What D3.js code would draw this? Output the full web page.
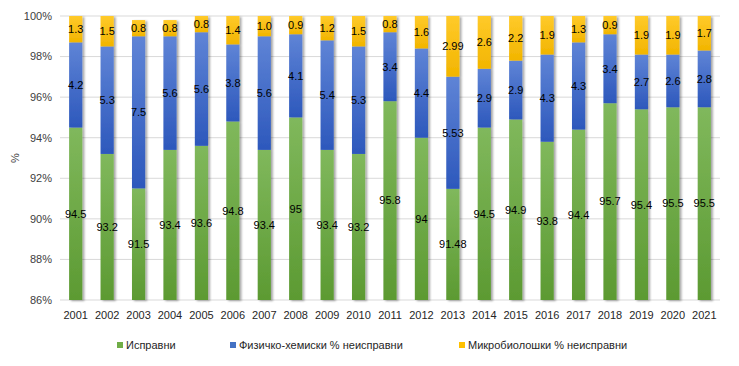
<!DOCTYPE html>
<html>
<head>
<meta charset="utf-8">
<script src="https://cdn.jsdelivr.net/npm/d3@7"></script>
<style>
  body { margin: 0; background: #fff; }
  text { font-family: "Liberation Sans", Arial, sans-serif; }
</style>
</head>
<body>
<div id="chart"></div>
<script>
// data
const years = ["2001","2002","2003","2004","2005","2006","2007","2008","2009","2010","2011",
               "2012","2013","2014","2015","2016","2017","2018","2019","2020","2021"];
const ispravni = [94.5, 93.2, 91.5, 93.4, 93.6, 94.8, 93.4, 95, 93.4, 93.2, 95.8,
                  94, 91.48, 94.5, 94.9, 93.8, 94.4, 95.7, 95.4, 95.5, 95.5];
const fizicko = [4.2, 5.3, 7.5, 5.6, 5.6, 3.8, 5.6, 4.1, 5.4, 5.3, 3.4,
                 4.4, 5.53, 2.9, 2.9, 4.3, 4.3, 3.4, 2.7, 2.6, 2.8];
const mikro = [1.3, 1.5, 0.8, 0.8, 0.8, 1.4, 1.0, 0.9, 1.2, 1.5, 0.8,
               1.6, 2.99, 2.6, 2.2, 1.9, 1.3, 0.9, 1.9, 1.9, 1.7];
const yTicks = [86, 88, 90, 92, 94, 96, 98, 100];
const seriesNames = ["Исправни", "Физичко-хемиски % неисправни", "Микробиолошки % неисправни"];
const labelText = [
  ispravni.map(String),
  fizicko.map(v => v.toFixed(v === 5.53 ? 2 : 1)),
  mikro.map(v => v.toFixed(v === 2.99 ? 2 : 1))
];

const width = 739, height = 366;
const margin = { top: 16, right: 19, bottom: 66, left: 60 };

const svg = d3.select("#chart").append("svg")
    .attr("width", width)
    .attr("height", height);

const defs = svg.append("defs");
const grads = [
  ["g0", "#80b85c", "#5c9a32"],
  ["g1", "#5f84d6", "#2d58bc"],
  ["g2", "#ffca2a", "#f2b500"]
];
grads.forEach(g => {
  const lg = defs.append("linearGradient").attr("id", g[0])
      .attr("x1", 0).attr("y1", 0).attr("x2", 0).attr("y2", 1);
  lg.append("stop").attr("offset", "0%").attr("stop-color", g[1]);
  lg.append("stop").attr("offset", "100%").attr("stop-color", g[2]);
});
const f = defs.append("filter").attr("id", "shadow")
    .attr("x", "-50%").attr("y", "-10%").attr("width", "200%").attr("height", "120%");
f.append("feDropShadow").attr("dx", 2).attr("dy", 1).attr("stdDeviation", 1)
    .attr("flood-color", "#000").attr("flood-opacity", 0.35);

const x = d3.scaleBand()
    .domain(years)
    .range([margin.left, width - margin.right])
    .paddingInner(0.58)
    .paddingOuter(0.29);

const y = d3.scaleLinear()
    .domain([86, 100])
    .range([height - margin.bottom, margin.top]);

// gridlines
svg.append("g").selectAll("line")
  .data(yTicks)
  .join("line")
    .attr("x1", margin.left)
    .attr("x2", width - margin.right)
    .attr("y1", d => y(d))
    .attr("y2", d => y(d))
    .attr("stroke", "#d9d9d9")
    .attr("stroke-width", 1);

// y axis labels
svg.append("g").selectAll("text")
  .data(yTicks)
  .join("text")
    .attr("x", margin.left - 8)
    .attr("y", d => y(d))
    .attr("dy", "0.35em")
    .attr("text-anchor", "end")
    .attr("font-size", 11)
    .attr("fill", "#404040")
    .text(d => d + "%");

svg.append("text")
    .attr("transform", `translate(19,${(margin.top + height - margin.bottom) / 2}) rotate(-90)`)
    .attr("text-anchor", "middle")
    .attr("font-size", 11)
    .attr("fill", "#404040")
    .text("%");

// x axis labels
svg.append("g").selectAll("text")
  .data(years)
  .join("text")
    .attr("x", d => x(d) + x.bandwidth() / 2)
    .attr("y", height - margin.bottom + 19)
    .attr("text-anchor", "middle")
    .attr("font-size", 11)
    .attr("fill", "#262626")
    .text(d => d);

// stacked bars
const table = years.map((yr, i) => ({ year: yr, a: ispravni[i], b: fizicko[i], c: mikro[i] }));
const stack = d3.stack().keys(["a", "b", "c"])(table);

const barG = svg.append("g").attr("filter", "url(#shadow)");
stack.forEach((layer, k) => {
  barG.append("g").selectAll("rect")
    .data(layer)
    .join("rect")
      .attr("x", d => x(d.data.year))
      .attr("width", x.bandwidth())
      .attr("y", d => y(Math.min(d[1], 100)))
      .attr("height", d => y(Math.max(d[0], 86)) - y(Math.min(d[1], 100)))
      .attr("fill", `url(#g${k})`);
});

// value labels
stack.forEach((layer, k) => {
  svg.append("g").selectAll("text")
    .data(layer)
    .join("text")
      .attr("x", d => x(d.data.year) + x.bandwidth() / 2)
      .attr("y", d => y((Math.max(d[0], 86) + Math.min(d[1], 100)) / 2))
      .attr("dy", "0.35em")
      .attr("text-anchor", "middle")
      .attr("font-size", 11)
      .attr("fill", "#000")
      .text((d, i) => labelText[k][i]);
});

// legend
const legendX = [117, 230, 459];
const legendColors = ["#70ad47", "#4472c4", "#ffc000"];
const leg = svg.append("g").selectAll("g")
  .data(seriesNames)
  .join("g")
    .attr("transform", (d, i) => `translate(${legendX[i]},345)`);
leg.append("rect")
    .attr("x", 0).attr("y", -3)
    .attr("width", 6).attr("height", 6)
    .attr("fill", (d, i) => legendColors[i]);
leg.append("text")
    .attr("x", 9)
    .attr("dy", "0.35em")
    .attr("font-size", 11)
    .attr("fill", "#262626")
    .text(d => d);
</script>
</body>
</html>
